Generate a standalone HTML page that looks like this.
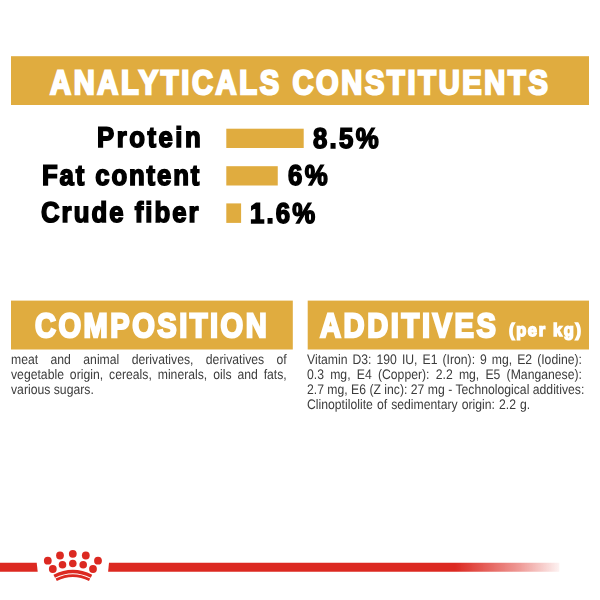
<!DOCTYPE html>
<html lang="en">
<head>
<meta charset="utf-8">
<title>Analytical constituents</title>
<style>
html,body{margin:0;padding:0;background:#fff;}
body{width:600px;height:600px;position:relative;overflow:hidden;font-family:"Liberation Sans",sans-serif;text-rendering:geometricPrecision;}
#page{position:absolute;left:0;top:0;width:600px;height:600px;transform:translateZ(0);}
.h{position:absolute;color:#fff;font-weight:bold;white-space:nowrap;transform-origin:0 0;line-height:1;-webkit-text-stroke:2.3px #fff;}
.lab{position:absolute;color:#000;font-weight:bold;white-space:nowrap;transform-origin:0 0;line-height:1;-webkit-text-stroke:1.6px #000;}
.txt{position:absolute;color:#3c3c3c;font-size:13.8px;line-height:15px;transform-origin:0 0;transform:translateY(0.45px) scaleX(0.885);}
.txt div{position:absolute;left:0;width:100%;text-align:justify;text-align-last:justify;white-space:nowrap;}
.txt div.last{text-align-last:left;}
svg{position:absolute;left:0;top:0;}
</style>
</head>
<body>
<div id="page">
<svg width="600" height="600" viewBox="0 0 600 600">
<defs>
<linearGradient id="fade" gradientUnits="userSpaceOnUse" x1="455" y1="0" x2="559.3" y2="0">
<stop offset="0" stop-color="#dc2921" stop-opacity="1"/>
<stop offset="0.62" stop-color="#dc2921" stop-opacity="0.47"/>
<stop offset="1" stop-color="#dc2921" stop-opacity="0.06"/>
</linearGradient>
</defs>
<g fill="#e0ac3f">
<rect x="11" y="56.2" width="578" height="48.8"/>
<rect x="226.3" y="128.7" width="77.4" height="19.3"/>
<rect x="226.3" y="166.2" width="51.45" height="19.3"/>
<rect x="226.3" y="203.4" width="14.8" height="19.5"/>
<rect x="11" y="300.6" width="281.8" height="48.9"/>
<rect x="307.7" y="300.6" width="281.3" height="48.9"/>
</g>
<polygon points="0,562.8 36.7,562.8 37.7,571.8 0,571.8" fill="#dc2921"/>
<polygon points="109,562.8 559.3,562.8 559.3,571.8 108.1,571.8" fill="url(#fade)"/>
<g fill="#dc2921">
<circle cx="47.8" cy="560.7" r="3.9"/>
<circle cx="60" cy="555.5" r="3.9"/>
<circle cx="72.8" cy="553.8" r="3.9"/>
<circle cx="85.8" cy="555.5" r="3.9"/>
<circle cx="98" cy="560.7" r="3.9"/>
<circle cx="52.8" cy="569" r="3.9"/>
<circle cx="62.5" cy="564.8" r="3.8"/>
<circle cx="72.8" cy="563.5" r="3.8"/>
<circle cx="83.2" cy="564.8" r="3.8"/>
<circle cx="93" cy="569" r="3.9"/>
</g>
<g fill="none" stroke="#dc2921" stroke-linecap="butt">
<path d="M54.2 576.3 Q72.8 566.7 91.5 576.3" stroke-width="3.3"/>
<path d="M56.2 579.7 Q72.8 571.5 89.6 579.7" stroke-width="2.8"/>
</g>
</svg>

<div class="h" id="h1" style="left:49.92px;top:66.73px;font-size:33.8px;letter-spacing:3.097px;transform:scaleX(0.86)">ANALYTICALS CONSTITUENTS</div>

<div class="lab" id="l1" style="left:97.11px;top:124.0px;font-size:28.6px;letter-spacing:2.77px;transform:scaleX(0.9)">Protein</div>
<div class="lab" id="l2" style="left:41.8px;top:161.5px;font-size:28.6px;letter-spacing:2.07px;transform:scaleX(0.9)">Fat content</div>
<div class="lab" id="l3" style="left:41.4px;top:199.2px;font-size:28.6px;letter-spacing:2.25px;transform:scaleX(0.9)">Crude fiber</div>

<div class="lab" id="v1" style="left:312.82px;top:124.5px;font-size:28.6px;letter-spacing:2.543px;transform:scaleX(0.9)">8.5%</div>
<div class="lab" id="v2" style="left:287.96px;top:162px;font-size:28.6px;letter-spacing:2.826px;transform:scaleX(0.9)">6%</div>
<div class="lab" id="v3" style="left:250.0px;top:199.7px;font-size:28.6px;letter-spacing:2.4px;transform:scaleX(0.9)">1.6%</div>

<div class="h" id="h2" style="left:34.64px;top:309.73px;font-size:33.8px;letter-spacing:2.908px;transform:scaleX(0.86)">COMPOSITION</div>
<div class="h" id="h3" style="left:320.32px;top:309.73px;font-size:33.8px;letter-spacing:3.044px;transform:scaleX(0.86)">ADDITIVES</div>
<div class="h" id="h4" style="left:509.06px;top:321.9px;font-size:17.9px;letter-spacing:1.795px;-webkit-text-stroke-width:1.5px;transform:scaleX(0.92)">(per kg)</div>

<div class="txt" id="t1" style="left:11.05px;top:0;width:311.6px;">
<div style="top:352px">meat and animal derivatives, derivatives of</div>
<div style="top:367px">vegetable origin, cereals, minerals, oils and fats,</div>
<div style="top:382px" class="last">various sugars.</div>
</div>
<div class="txt" id="t2" style="left:307.06px;top:0;width:310.7px;">
<div style="top:352px">Vitamin D3: 190 IU, E1 (Iron): 9 mg, E2 (Iodine):</div>
<div style="top:367px">0.3 mg, E4 (Copper): 2.2 mg, E5 (Manganese):</div>
<div style="top:382px">2.7 mg, E6 (Z inc): 27 mg - Technological additives:</div>
<div style="top:397px;word-spacing:0.75px" class="last">Clinoptilolite of sedimentary origin: 2.2 g.</div>
</div>
</div>
</body>
</html>
